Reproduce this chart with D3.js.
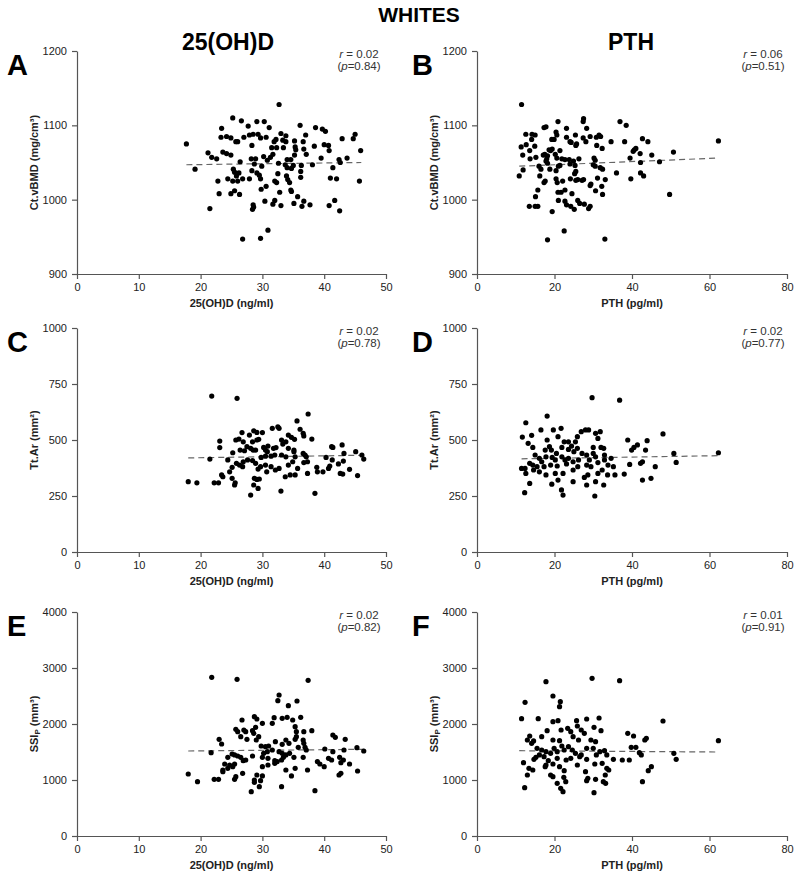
<!DOCTYPE html>
<html><head><meta charset="utf-8">
<script src="https://cdn.jsdelivr.net/npm/d3@7"></script>
<style>body{margin:0;background:#fff}</style>
</head><body><div id="chart"></div>
<script>
const xTicksVitD=[0,10,20,30,40,50];
const xTicksPTH=[0,20,40,60,80];
const yTicksBMD=[900,1000,1100,1200];
const yTicksTtAr=[0,250,500,750,1000];
const yTicksSSI=[0,1000,2000,3000,4000];
const panelLetters=["A","B","C","D","E","F"];
const rValues=["0.02","0.06","0.02","0.02","0.02","0.01"];
const pValues=["0.84","0.51","0.78","0.77","0.82","0.91"];

const dataA=[[32.7,1128],[25.2,1110],[26.6,1106],[29.1,1105],[30.3,1105],[27.7,1099],[31.1,1097],[23.4,1096],[36.1,1100],[38.6,1097],[39.7,1095],[40.2,1092],[45,1088],[44.7,1082],[42.9,1082],[37,1087],[33,1089],[33.8,1086],[23.3,1084],[24.2,1085],[24.9,1083],[25.7,1078],[26,1078],[27,1084],[27.9,1087],[28.5,1088],[29.3,1088],[29.7,1083],[30.6,1084],[32.2,1081],[31.9,1078],[33.3,1080],[33.8,1078],[35.2,1079],[36.6,1078],[28.3,1073],[17.7,1075],[40,1074],[40.7,1073],[38.4,1072],[35.3,1071],[35.4,1067],[36.7,1068],[31.5,1070],[32.3,1070],[33.4,1070],[40.8,1066],[45.9,1066],[21.2,1063],[23.6,1064],[24.2,1062],[24.9,1060],[21.8,1057],[22.6,1055],[31.7,1061],[31.3,1057],[30.2,1058],[30.8,1053],[28.2,1055],[28.9,1055],[26.4,1051],[28.7,1048],[29.9,1045],[32.6,1049],[34,1054],[34.6,1054],[35.2,1060],[37.1,1061],[39.5,1056],[42.4,1054],[42.6,1050],[43.7,1056],[38.1,1047],[36.3,1046],[36.2,1038],[34.7,1042],[35,1046],[34,1043],[33.7,1047],[41.4,1043],[19.1,1041],[25.3,1041],[25.5,1037],[26.2,1036],[25.8,1032],[28.3,1039],[29.1,1036],[29.5,1033],[32.5,1035],[33.9,1032],[36.2,1030],[24.4,1028],[25.2,1025],[26,1025],[26.8,1028],[27.9,1028],[29.7,1028],[32,1025],[32.3,1023],[34.1,1027],[34.4,1023],[41,1029],[42,1028],[45.7,1025],[22.8,1025],[25.5,1012],[23,1008],[24.9,1008],[26.3,1007],[29.8,1014],[30.6,1018],[32.8,1010],[34.6,1013],[34.7,1011],[35.7,1004],[36.7,998],[37.7,993],[36.4,991],[35.1,995],[33,992],[32,999],[31.7,994],[30.4,998],[28.5,993],[28.6,990],[28.4,987],[21.5,988],[40.8,992],[41.7,999],[42.5,985],[30.9,959],[29.7,948],[26.8,947]];
const dataB=[[11.5,1128],[36.9,1105],[38.5,1100],[27.5,1109],[27.4,1105],[20.9,1105],[17.3,1097],[17.8,1098],[23.1,1096],[28.3,1096],[20.4,1091],[20.6,1087],[12.6,1088],[14.2,1088],[15,1087],[25.4,1087],[23.1,1084],[29.2,1085],[31.5,1087],[31.9,1085],[30.8,1084],[27.4,1083],[19.3,1081],[19.9,1081],[14.1,1081],[42.7,1082],[44.1,1078],[38.1,1078],[34.6,1078],[62.3,1079],[24,1078],[24.3,1077],[25.7,1075],[25.5,1073],[28.1,1078],[30.9,1073],[32.3,1069],[11.4,1071],[12.7,1074],[13.6,1066],[14.9,1072],[19,1066],[19.4,1068],[18.6,1067],[21.4,1066],[41,1069],[40.6,1067],[40.3,1065],[50.7,1064],[42.1,1062],[45.1,1060],[11.8,1060],[13.7,1055],[15.2,1057],[17.1,1060],[17.5,1061],[18.2,1059],[18,1055],[20.2,1061],[20.6,1056],[21.9,1055],[22.7,1054],[23.8,1054],[24.9,1052],[26.3,1055],[30.2,1056],[30.5,1053],[39.5,1056],[42.2,1050],[47.1,1051],[17.8,1052],[18.2,1049],[16,1045],[16.5,1041],[18.8,1041],[20.4,1039],[21,1045],[21.4,1046],[11.9,1040],[10.9,1032],[16.2,1032],[24,1048],[25.3,1046],[25.5,1038],[25.2,1035],[30,1047],[30.5,1045],[31.8,1043],[32.4,1041],[36,1036],[42.2,1036],[43,1032],[39.7,1028],[17.3,1023],[17.6,1025],[20.4,1028],[20.7,1023],[22.1,1025],[24.1,1028],[25.5,1026],[26,1027],[27.1,1026],[27.5,1027],[29.2,1019],[29.4,1021],[31.1,1029],[33.1,1027],[32.2,1018],[30.6,1012],[32.4,1007],[15.7,1013],[15.1,1004],[20.9,1010],[21.7,1010],[22.7,1013],[24.5,1008],[13.5,991],[15,991],[15.7,991],[21,999],[22.7,998],[23.1,993],[24.2,991],[25.1,987],[26,999],[26.5,995],[27.7,994],[28.8,988],[29.2,991],[19.4,984],[49.7,1007],[22.5,958],[18.2,946],[33,947]];
const dataC=[[21.8,696],[25.9,686],[37.4,616],[35.6,585],[36.1,548],[36.6,530],[36.7,518],[31.6,552],[32.5,559],[32.7,552],[34.2,522],[34.7,512],[35.2,503],[38,504],[26.7,533],[28.6,541],[29.1,534],[30,533],[25.7,500],[26.2,504],[26.9,492],[28.4,492],[29.1,500],[29.4,503],[23.1,495],[27.5,470],[26.4,455],[27.1,452],[28.1,463],[28.5,455],[28.9,455],[30.2,467],[30.5,455],[30.8,448],[23.1,466],[25.2,443],[31.8,463],[32.2,466],[33.3,482],[34.2,463],[35.1,455],[32,433],[33.1,433],[33.8,425],[31.4,428],[30.5,428],[29.8,422],[35.1,448],[35.3,425],[36.6,440],[36.9,433],[37.1,425],[41.2,470],[41.4,467],[42.9,478],[40.3,422],[41.3,411],[43.2,440],[45.1,448],[46.1,433],[46.4,415],[43.1,406],[42.3,393],[40.9,384],[40.7,373],[44.1,369],[42.6,351],[43,348],[45.4,341],[38.8,378],[38.9,358],[39.8,358],[37.3,403],[36.7,399],[34.9,403],[34.2,388],[35.7,373],[37.3,351],[34.5,344],[35.3,344],[33.7,336],[32.7,373],[32.1,366],[31.4,381],[30.7,358],[30.5,388],[29.7,381],[29.3,370],[28.9,396],[28.4,408],[27.6,411],[26.9,403],[26.3,388],[26.8,381],[25.8,396],[25.1,378],[24.7,358],[24.4,411],[23.6,336],[23.4,344],[25.1,329],[21.5,415],[25.6,309],[25.5,299],[28.7,329],[29.1,324],[29.5,326],[28.6,299],[29.3,284],[28.1,254],[33,272],[38.5,262],[18,314],[19.4,309],[22.2,309],[22.9,309],[27.9,522],[33.1,500],[30.9,473],[33.8,492]];
const dataD=[[29.7,689],[36.8,678],[18.1,607],[12.6,577],[16.5,545],[19.7,545],[21.7,552],[14.1,521],[11.7,513],[18.1,500],[20.9,515],[22.5,492],[23.6,492],[25.4,492],[25.9,515],[26.9,537],[28,545],[28.8,545],[30.6,530],[31.8,537],[31.2,507],[30,467],[32,467],[32.7,463],[13.2,485],[14.4,467],[18.7,470],[17.6,455],[19.2,455],[20.5,440],[21.9,467],[23.6,458],[24.4,473],[25,448],[25.9,463],[27.1,440],[28.3,433],[30.6,425],[15,433],[16.1,418],[16.7,403],[17.8,425],[19.4,422],[20.2,411],[21.9,425],[22.7,411],[23.6,418],[24.8,403],[26.2,411],[13.6,396],[14.4,388],[15.5,381],[12.4,373],[17.3,381],[19,388],[20.7,384],[23.1,393],[26,381],[28.3,388],[29.4,381],[31.2,399],[32.9,411],[33.8,388],[35.2,381],[32.3,366],[31.2,351],[28.6,344],[27.7,333],[24.8,366],[22.2,351],[20.2,351],[17.8,344],[16.1,358],[14.6,366],[12.6,351],[11.5,373],[13.6,306],[19.3,303],[20.9,321],[24.8,314],[28.3,299],[30.6,314],[32.7,299],[33.7,344],[21.8,277],[22.2,254],[30.4,250],[12.3,265],[38.9,500],[40.5,467],[41.4,478],[39.9,455],[43.9,497],[43.5,455],[48,527],[50.8,440],[51.4,400],[42.7,403],[42.2,396],[39.4,391],[38,348],[46,381],[42.7,321],[44.9,329],[62.3,443],[35.6,344],[34.6,418],[30,440],[29,411],[32.9,433]];
const dataE=[[21.8,2833],[25.9,2798],[37.4,2780],[32.7,2518],[32.5,2417],[34.2,2327],[35.6,2411],[26.7,2071],[28.7,2131],[29.1,2089],[30,2012],[31.9,2113],[33.2,2101],[34,2119],[36.2,2119],[34.9,2071],[31.6,2012],[25.7,1905],[26,1863],[27,1893],[27.3,1863],[28.4,1881],[28.9,1941],[28.6,1833],[29.4,1774],[35.3,1952],[35.5,1863],[36.7,1863],[38,1881],[26.5,1774],[27.5,1726],[29,1714],[23,1726],[23.4,1643],[29.8,1607],[30.5,1595],[31,1607],[32.1,1685],[33.2,1637],[33.8,1714],[34.3,1655],[35.3,1726],[35.5,1774],[36.6,1714],[36.7,1655],[35.8,1583],[36.9,1583],[37.1,1536],[41.4,1804],[41.8,1762],[43.4,1726],[45.3,1577],[46.4,1518],[40.1,1554],[41.4,1506],[43.2,1536],[21.7,1488],[24.4,1405],[25.1,1464],[25.5,1447],[26,1429],[26.5,1405],[26.9,1345],[28.4,1429],[30.2,1476],[30.8,1506],[31.6,1536],[32.7,1506],[33.2,1476],[33.8,1447],[34.4,1476],[35.1,1405],[36.6,1405],[30,1405],[30.9,1387],[32,1345],[33.4,1405],[23.9,1286],[24.7,1268],[24.4,1208],[23.6,1179],[23.6,1149],[25.2,1238],[25.5,1286],[27.3,1357],[30,1238],[30.9,1268],[32,1298],[32.4,1327],[33.1,1357],[33.8,1179],[35.3,1208],[37.3,1179],[38.9,1327],[39.3,1286],[40,1238],[40.7,1387],[41.2,1357],[42.5,1405],[43.1,1357],[42.7,1310],[44.1,1286],[45.4,1161],[42.4,1089],[42.7,1119],[18,1107],[19.5,970],[22.2,1012],[22.9,1012],[25.5,1012],[25.7,1060],[26.8,1119],[28.7,1000],[29.1,1089],[30,1072],[28.7,958],[29.5,881],[28.2,792],[33.1,881],[34.7,1072],[38.5,810],[29.7,988]];
const dataF=[[29.7,2815],[36.8,2774],[17.8,2756],[19.6,2500],[21.5,2399],[21.3,2310],[12.4,2387],[11.5,2095],[15.8,2095],[19.6,2042],[20.9,2060],[25.7,2060],[28.3,2089],[31.5,2107],[48,2054],[25.9,1964],[30.2,1941],[23.4,1923],[26.9,1893],[32,1881],[18.1,1881],[21.7,1893],[24.2,1863],[27.7,1833],[13.6,1786],[16.7,1774],[13,1714],[14.6,1697],[14.1,1655],[19.6,1714],[21.3,1702],[24.8,1774],[26.2,1714],[29.4,1714],[30.6,1685],[38.9,1833],[40.4,1786],[43.7,1744],[43.3,1714],[62.3,1702],[50.8,1476],[51.4,1369],[39.8,1583],[41,1583],[41.9,1488],[42.4,1447],[35.2,1369],[37.5,1357],[39.3,1357],[45,1238],[44.2,1167],[42.7,970],[15.5,1565],[16.7,1536],[17.8,1506],[16.1,1447],[15.2,1405],[17.3,1417],[19,1476],[19.9,1565],[20.7,1506],[21.9,1607],[22.5,1536],[23.6,1595],[24.6,1536],[25.4,1476],[26.9,1447],[28.3,1565],[30,1565],[30.8,1447],[31.7,1506],[32.9,1524],[33.5,1447],[14.7,1369],[18.4,1345],[19.6,1286],[17.8,1268],[12,1310],[13.4,1208],[14.4,1179],[13,1089],[23,1357],[24.2,1387],[26.5,1417],[28.3,1369],[30.4,1286],[32.3,1298],[33.5,1208],[34,1179],[21.3,1238],[22.5,1167],[19,1089],[19.6,1060],[22.4,1048],[22.9,970],[20.7,941],[28,1149],[28.6,1030],[28.3,988],[30.6,1012],[32.6,970],[33.2,941],[33.1,1089],[21.6,851],[22.2,792],[30.2,774],[12.3,863],[25.9,1268],[17.6,1238],[20.7,1387]];

const trendA=[[17.7,1047],[46,1050]];
const trendB=[[10.9,1045],[62.3,1056]];
const trendC=[[18,420],[46.4,432]];
const trendD=[[11.5,416],[62.5,430]];
const trendE=[[18,1518],[46.4,1548]];
const trendF=[[10.9,1523],[62.3,1500]];

const FONT='Arial, "Liberation Sans", sans-serif';
const W=800,H=876;
const svg=d3.select('#chart').append('svg').attr('width',W).attr('height',H).style('background','#fff');

const cols=[{x0:77,x1:386,domain:[0,50],ticks:xTicksVitD,title:'25(OH)D (ng/ml)',header:'25(OH)D',hx:228},
            {x0:477,x1:787,domain:[0,80],ticks:xTicksPTH,title:'PTH (pg/ml)',header:'PTH',hx:631}];
const rows=[{y0:274,y1:51,domain:[900,1200],ticks:yTicksBMD,title:[['Ct.vBMD (mg/cm³)',0]]},
            {y0:552,y1:328,domain:[0,1000],ticks:yTicksTtAr,title:[['Tt.Ar (mm²)',0]]},
            {y0:836,y1:612,domain:[0,4000],ticks:yTicksSSI,title:[['SSI',0],['P',1],[' (mm³)',2]]}];
const datas=[dataA,dataB,dataC,dataD,dataE,dataF];
const trends=[trendA,trendB,trendC,trendD,trendE,trendF];
const fmt=d3.format('d');

svg.append('text').attr('x',419).attr('y',22).attr('text-anchor','middle')
  .attr('font-family',FONT).attr('font-weight','bold').attr('font-size',21).attr('fill','#000').text('WHITES');
cols.forEach(c=>{
  svg.append('text').attr('x',c.hx).attr('y',50).attr('text-anchor','middle')
   .attr('font-family',FONT).attr('font-weight','bold').attr('font-size',23).attr('fill','#000').text(c.header);
});

for(let i=0;i<6;i++){
  const c=cols[i%2], r=rows[Math.floor(i/2)];
  const x=d3.scaleLinear().domain(c.domain).range([c.x0,c.x1]);
  const y=d3.scaleLinear().domain(r.domain).range([r.y0,r.y1]);
  const g=svg.append('g');
  const ax=g.append('g').attr('transform',`translate(0,${r.y0})`)
    .call(d3.axisBottom(x).tickValues(c.ticks).tickFormat(fmt).tickSize(5).tickSizeOuter(0).tickPadding(4));
  const ay=g.append('g').attr('transform',`translate(${c.x0},0)`)
    .call(d3.axisLeft(y).tickValues(r.ticks).tickFormat(fmt).tickSize(5).tickSizeOuter(0).tickPadding(5));
  [ax,ay].forEach(a=>{
    a.selectAll('path,line').attr('stroke','#555').attr('stroke-width',1.2);
    a.selectAll('text').attr('font-family',FONT).attr('font-size',11).attr('fill','#222');
  });
  g.append('text').attr('x',(c.x0+c.x1)/2).attr('y',r.y0+33).attr('text-anchor','middle')
   .attr('font-family',FONT).attr('font-weight','bold').attr('font-size',11).attr('fill','#222').text(c.title);
  const yt=g.append('text').attr('transform',`translate(${c.x0-43},${(r.y0+r.y1)/2}) rotate(-90)`)
   .attr('text-anchor','middle').attr('dy','0.35em')
   .attr('font-family',FONT).attr('font-weight','bold').attr('font-size',11).attr('fill','#222');
  r.title.forEach(([t,k])=>{
    const ts=yt.append('tspan').text(t);
    if(k===1) ts.attr('font-size',8).attr('dy',2);
    if(k===2) ts.attr('dy',-2);
  });
  g.append('text').attr('x',i%2===0?7:412).attr('y',r.y1+24)
   .attr('font-family',FONT).attr('font-weight','bold').attr('font-size',29).attr('fill','#000').text(panelLetters[i]);
  const sx=i%2===0?359:763;
  const t1=g.append('text').attr('x',sx).attr('y',r.y1+7).attr('text-anchor','middle')
   .attr('font-family',FONT).attr('font-size',11.5).attr('fill','#333');
  t1.append('tspan').attr('font-style','italic').text('r');
  t1.append('tspan').text(' = '+rValues[i]);
  const t2=g.append('text').attr('x',sx).attr('y',r.y1+19).attr('text-anchor','middle')
   .attr('font-family',FONT).attr('font-size',11.5).attr('fill','#333');
  t2.append('tspan').text('(');
  t2.append('tspan').attr('font-style','italic').text('p');
  t2.append('tspan').text('='+pValues[i]+')');
  g.append('path').datum(trends[i]).attr('d',d3.line().x(d=>x(d[0])).y(d=>y(d[1])))
   .attr('fill','none').attr('stroke','#666').attr('stroke-width',1.2).attr('stroke-dasharray','6,4');
  g.selectAll('circle.pt').data(datas[i]).join('circle').attr('class','pt')
   .attr('cx',d=>x(d[0])).attr('cy',d=>y(d[1])).attr('r',2.6).attr('fill','#000');
}
</script></body></html>
